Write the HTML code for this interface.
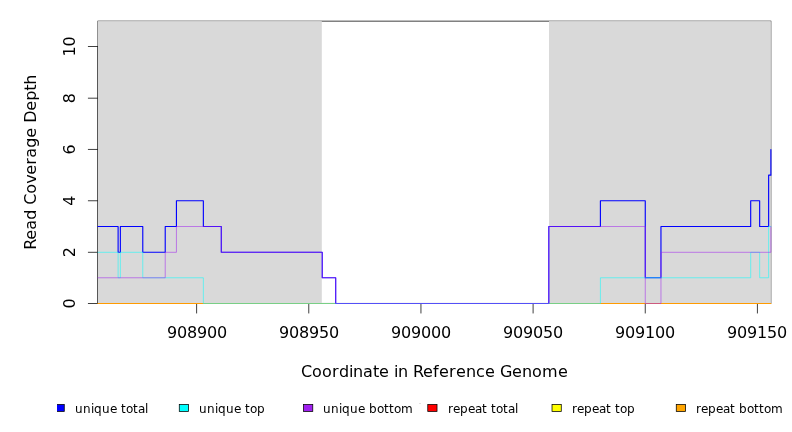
<!DOCTYPE html>
<html><head><meta charset="utf-8"><title>Read Coverage Depth</title>
<style>html,body{margin:0;padding:0;background:#fff}svg{display:block}text{font-family:"DejaVu Sans","Liberation Sans",sans-serif;fill:#000}</style></head><body>
<svg width="792" height="432" viewBox="0 0 792 432">
<rect width="792" height="432" fill="#fff"/>
<defs><clipPath id="c"><rect x="97" y="20" width="675" height="285"/></clipPath></defs>
<rect x="97.92" y="21.12" width="672.96" height="282.34" fill="none" stroke="#000" stroke-width="0.75"/>
<path d="M97.92 303.5 L97.92 46.5 M97.92 303.5 L88.32 303.5 M97.92 252.3 L88.32 252.3 M97.92 200.75 L88.32 200.75 M97.92 149.45 L88.32 149.45 M97.92 98.2 L88.32 98.2 M97.92 46.5 L88.32 46.5 M196.62 303.46 L757.42 303.46 M196.62 303.46 L196.62 313.06 M308.78 303.46 L308.78 313.06 M420.94 303.46 L420.94 313.06 M533.1 303.46 L533.1 313.06 M645.26 303.46 L645.26 313.06 M757.42 303.46 L757.42 313.06" fill="none" stroke="#000" stroke-width="0.75" stroke-linecap="round"/>
<g clip-path="url(#c)">
<rect x="97.92" y="21.12" width="223.88" height="282.34" fill="#d9d9d9"/>
<rect x="549.0" y="21.12" width="221.88" height="282.34" fill="#d9d9d9"/>
<g fill="none" stroke-linejoin="round" stroke-linecap="round">
<path d="M97.92 303.5 L770.88 303.5" stroke="#ff9b00" stroke-width="1"/>
<path d="M97.92 226.51 L118.11 226.51 L118.11 252.3 L120.35 252.3 L120.35 226.51 L142.78 226.51 L142.78 252.3 L165.22 252.3 L165.22 226.51 L176.43 226.51 L176.43 200.75 L203.35 200.75 L203.35 226.51 L221.3 226.51 L221.3 252.3 L322.24 252.3 L322.24 277.77 L335.7 277.77 L335.7 303.5 L548.8 303.5 L548.8 226.51 L600.4 226.51 L600.4 200.75 L645.26 200.75 L645.26 277.77 L660.96 277.77 L660.96 226.51 L750.69 226.51 L750.69 200.75 L759.66 200.75 L759.66 226.51 L768.64 226.51 L768.64 175.17 L770.88 175.17 L770.88 149.45 L770.88 149.45" stroke="#0000ff" stroke-width="1.125"/>
<path d="M97.92 252.3 L118.11 252.3 L118.11 277.77 L120.35 277.77 L120.35 252.3 L142.78 252.3 L142.78 277.77 L203.35 277.77 L203.35 303.5 L600.4 303.5 L600.4 277.77 L750.69 277.77 L750.69 252.3 L759.66 252.3 L759.66 277.77 L768.64 277.77 L768.64 226.51 L770.88 226.51" stroke="#00ffff" stroke-opacity="0.7" stroke-width="0.75"/>
<path d="M97.92 277.77 L165.22 277.77 L165.22 252.3 L176.43 252.3 L176.43 226.51 L221.3 226.51 L221.3 252.3 L322.24 252.3 L322.24 277.77 L335.7 277.77 L335.7 303.5 L548.8 303.5 L548.8 226.51 L645.26 226.51 L645.26 303.5 L660.96 303.5 L660.96 252.3 L770.88 252.3 L770.88 226.51 L770.88 226.51" stroke="#a020f0" stroke-opacity="0.7" stroke-width="0.75"/>
</g></g>
<text x="167 177 187 197 207 217" y="337.6" font-size="16">908900</text>
<text x="279 289 299 309 319 329" y="337.6" font-size="16">908950</text>
<text x="391 401 411 421 431 441" y="337.6" font-size="16">909000</text>
<text x="503 513 523 533 543 553" y="337.6" font-size="16">909050</text>
<text x="615 625 635 645 655 665" y="337.6" font-size="16">909100</text>
<text x="727 737 747 757 767 777" y="337.6" font-size="16">909150</text>
<text transform="translate(75.1,308.5) rotate(-90)" x="0" y="0" font-size="16">0</text>
<text transform="translate(75.1,257.3) rotate(-90)" x="0" y="0" font-size="16">2</text>
<text transform="translate(75.1,205.75) rotate(-90)" x="0" y="0" font-size="16">4</text>
<text transform="translate(75.1,154.45) rotate(-90)" x="0" y="0" font-size="16">6</text>
<text transform="translate(75.1,103.2) rotate(-90)" x="0" y="0" font-size="16">8</text>
<text transform="translate(75.1,56.5) rotate(-90)" x="0 10" y="0" font-size="16">10</text>
<text x="301 312 322 332 339 349 353 363 373 379 389 394 398 408 413 423 433 439 449 456 466 476 485 495 500 512 522 532 542 558" y="376.6" font-size="16">Coordinate in Reference Genome</text>
<text transform="translate(35.9,249.74) rotate(-90)" x="0 10 20 30 40 45 56 66 75 85 92 102 112 122 127 139 149 159 165" y="0" font-size="16">Read Coverage Depth</text>
<defs><clipPath id="lc"><rect x="57.1" y="390" width="735" height="42"/></clipPath></defs>
<g clip-path="url(#lc)">
<rect x="55.02" y="404.43" width="9.25" height="7" fill="#0000ff" stroke="#000" stroke-width="0.75"/>
<text x="75 83 91 94 102 110 117 121 126 133 138 145" y="413" font-size="12">unique total</text>
<rect x="179.28" y="404.43" width="9.25" height="7" fill="#00ffff" stroke="#000" stroke-width="0.75"/>
<text x="199 207 215 218 226 234 241 245 250 257" y="413" font-size="12">unique top</text>
<rect x="303.52" y="404.43" width="9.25" height="7" fill="#a020f0" stroke="#000" stroke-width="0.75"/>
<text x="323 331 339 342 350 358 365 369 377 384 389 394 401" y="413" font-size="12">unique bottom</text>
<rect x="427.77" y="404.43" width="9.25" height="7" fill="#ff0000" stroke="#000" stroke-width="0.75"/>
<text x="448 453 460 468 475 482 487 491 496 503 508 515" y="413" font-size="12">repeat total</text>
<rect x="552.02" y="404.43" width="9.25" height="7" fill="#ffff00" stroke="#000" stroke-width="0.75"/>
<text x="572 577 584 592 599 606 611 615 620 627" y="413" font-size="12">repeat top</text>
<rect x="676.27" y="404.43" width="9.25" height="7" fill="#ffa500" stroke="#000" stroke-width="0.75"/>
<text x="696 701 708 716 723 730 735 739 747 754 759 764 771" y="413" font-size="12">repeat bottom</text>
</g>
<rect x="419" y="403" width="2" height="1" fill="#e2e2e2"/>
</svg></body></html>
